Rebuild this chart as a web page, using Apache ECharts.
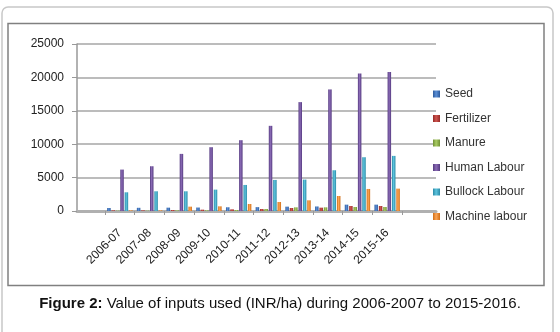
<!DOCTYPE html>
<html>
<head>
<meta charset="utf-8">
<script src="https://cdn.jsdelivr.net/npm/echarts@6/dist/echarts.min.js"></script>
<style>
  html, body { margin: 0; padding: 0; background: #fff; }
  #chart { width: 560px; height: 332px; }
</style>
</head>
<body>
<div id="chart"></div>
<script>
var years = ["2006-07", "2007-08", "2008-09", "2009-10", "2010-11",
  "2011-12", "2012-13", "2013-14", "2014-15", "2015-16"];
var yTicks = [0, 5000, 10000, 15000, 20000, 25000];

var seed = [450, 480, 500, 520, 560, 580, 650, 680, 950, 950];
var fertilizer = [100, 100, 150, 200, 250, 300, 450, 500, 750, 750];
var manure = [50, 50, 100, 100, 150, 300, 550, 550, 600, 600];
var humanLabour = [6200, 6700, 8550, 9550, 10600, 12750, 16300, 18200, 20600, 20800];
var bullockLabour = [2800, 2950, 2950, 3200, 3900, 4650, 4700, 6100, 8050, 8250];
var machineLabour = [100, 100, 650, 700, 1050, 1350, 1600, 2250, 3300, 3350];

var names = ["Seed", "Fertilizer", "Manure", "Human Labour", "Bullock Labour", "Machine labour"];
var seriesData = [seed, fertilizer, manure, humanLabour, bullockLabour, machineLabour];
// light / dark shade for the 3D-ish look
var shades = [
  ["#5b8fd6", "#2c5a9c"],
  ["#d05550", "#952a27"],
  ["#a9cc63", "#6f8f34"],
  ["#8a6bb5", "#553a80"],
  ["#5cc3dd", "#2a8aa6"],
  ["#fba556", "#d06d14"]
];

var chart = echarts.init(document.getElementById("chart"));

var series = names.map(function (n, i) {
  return {
    name: n,
    type: "bar",
    xAxisIndex: 1,
    yAxisIndex: 1,
    barWidth: 3.5,
    barGap: "25%",
    itemStyle: {
      color: new echarts.graphic.LinearGradient(0, 0, 1, 0, [
        { offset: 0, color: shades[i][1] },
        { offset: 0.45, color: shades[i][0] },
        { offset: 1, color: shades[i][1] }
      ])
    },
    data: seriesData[i]
  };
});

var option = {
  animation: false,
  textStyle: { fontFamily: "Liberation Sans" },
  color: shades.map(function (s) { return s[0]; }),
  legend: {
    orient: "vertical",
    left: 428,
    top: 83,
    itemWidth: 7,
    itemHeight: 7,
    itemGap: 12.5,
    icon: "rect",
    textStyle: { fontSize: 12, color: "#333" },
    data: names
  },
  grid: [
    { left: 77, right: 124, top: 44, bottom: 121 },
    { left: 105, right: 158, top: 44, bottom: 121 }
  ],
  xAxis: [
    {
      type: "value", gridIndex: 0, min: 0, max: 1,
      axisLine: { show: true, lineStyle: { color: "#b0b0b0", width: 3 } },
      axisTick: { show: false }, axisLabel: { show: false }, splitLine: { show: false }
    },
    {
      type: "category", gridIndex: 1, data: years,
      axisLine: { show: false },
      axisTick: { show: true, length: 4, lineStyle: { color: "#999" } },
      axisLabel: { rotate: 45, margin: 20, fontSize: 12, color: "#222" }
    }
  ],
  yAxis: [
    {
      type: "value", gridIndex: 0, min: 0, max: 25000, interval: 5000,
      axisLine: { show: true, lineStyle: { color: "#999", width: 1.5 } },
      axisTick: { show: true, length: 5, lineStyle: { color: "#999" } },
      axisLabel: { fontSize: 12, color: "#222", margin: 13, formatter: function (v) { return String(v); } },
      splitLine: { lineStyle: { color: "#a6a6a6", width: 1.5 } }
    },
    {
      type: "value", gridIndex: 1, min: 0, max: 25000, interval: 5000, show: false,
      splitLine: { show: false }
    }
  ],
  graphic: [
    {
      type: "rect", silent: true, z: -10,
      shape: { x: 2, y: 7, width: 551, height: 360, r: 6 },
      style: { fill: "#fff", stroke: "#c8c8c8", lineWidth: 1.5 }
    },
    {
      type: "rect", silent: true, z: -9,
      shape: { x: 8, y: 23.5, width: 536, height: 262 },
      style: { fill: "#fff", stroke: "#808080", lineWidth: 1.5 }
    },
    {
      type: "text", left: "center", top: 296,
      style: {
        text: "{b|Figure 2:} Value of inputs used (INR/ha) during 2006-2007 to 2015-2016.",
        rich: {
          b: { fontWeight: "bold", fontSize: 15, fontFamily: "Liberation Sans", fill: "#111" }
        },
        fontSize: 15, fontFamily: "Liberation Sans", fill: "#111"
      }
    }
  ],
  series: series
};

chart.setOption(option);
</script>
</body>
</html>
